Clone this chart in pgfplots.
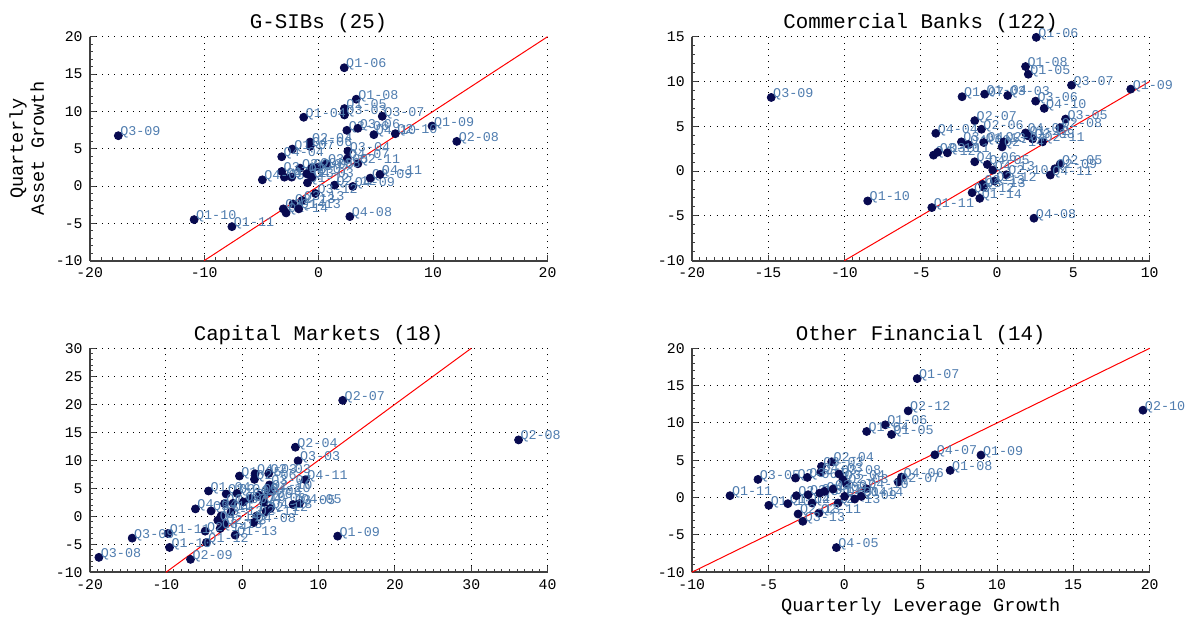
\documentclass[border=0pt]{standalone}
\usepackage{pgfplots}
\pgfplotsset{compat=1.18}
\usepackage{fontspec}
\setmainfont{Liberation Mono}
\definecolor{navy}{RGB}{8,10,80}
\definecolor{lblue}{RGB}{80,125,175}
\pgfplotsset{
  /pgf/number format/assume math mode=true,
  panel/.style={
    scale only axis, width=229pt, height=112pt,
    axis lines*=left,
    axis line style={line width=0.9pt, black!75},
    tick style={black!75, line width=0.5pt},
    major tick length=3pt, minor tick length=1.6pt,
    minor x tick num=9, minor y tick num=4,
    grid=major,
    major grid style={black, line width=0.5pt, dash pattern=on 0.5pt off 2.6pt},
    tick label style={font=\fontsize{7.4}{8}\selectfont, black},
    title style={font=\fontsize{10.4}{12}\selectfont, at={(0.5,1)}, anchor=south, yshift=-4.5pt, inner sep=0pt},
    label style={font=\fontsize{9.3}{10.5}\selectfont},
    clip=false,
    enlargelimits=false,
  },
  pts/.style={only marks, mark=*, mark size=2pt, mark options={fill=navy, draw=navy},
    nodes near coords, point meta=explicit symbolic,
    every node near coord/.append style={anchor=west, inner sep=0pt, xshift=0.8pt, yshift=1.6pt,
      font=\fontsize{6.7}{7}\selectfont, text=lblue}},
  diag/.style={red, line width=0.5pt, no marks},
}
\begin{document}
\begin{tikzpicture}
\useasboundingbox (0,0) rectangle (595.5pt,308.5pt);
% ---------------- G-SIBs
\begin{axis}[panel, at={(44.8pt,290.15pt)}, anchor=north west,
  title={G-SIBs (25)},
  xmin=-20, xmax=20, ymin=-10, ymax=20,
  xtick={-20,-10,0,10,20}, ytick={-10,-5,0,5,10,15,20},
  ylabel={Quarterly\\Asset Growth}, ylabel style={align=center, yshift=-1pt}]
\addplot[diag] coordinates {(-10,-10) (20,20)};
\addplot[pts] table[x=x, y=y, meta=lab, row sep=\\] {
x y lab\\
2.24 15.84 Q1-06\\
3.29 11.63 Q1-08\\
2.26 10.37 Q1-05\\
2.26 9.52 Q3-03\\
-1.30 9.21 Q1-04\\
5.56 9.34 Q3-07\\
-17.49 6.74 Q3-09\\
9.91 8.04 Q1-09\\
12.07 5.98 Q2-08\\
2.47 7.46 Q2-06\\
3.43 7.73 Q3-06\\
4.83 6.88 Q4-10\\
6.70 7.01 Q2-10\\
-0.74 5.89 Q2-04\\
-0.74 5.31 Q4-06\\
-2.29 4.95 Q1-07\\
-3.22 3.92 Q4-04\\
2.56 4.68 Q3-04\\
2.50 3.65 Q4-07\\
3.43 2.98 Q2-11\\
0.66 2.98 Q3-05\\
-1.62 2.40 Q3-10\\
-0.60 2.40 Q2-05\\
-0.01 2.54 Q3-08\\
-3.22 1.95 Q3-11\\
-2.99 1.19 Q4-12\\
-2.35 1.19 Q4-13\\
-4.91 0.83 Q4-05\\
-1.03 1.64 Q2-07\\
-0.97 0.43 Q1-12\\
-0.60 1.19 Q4-03\\
1.39 0.12 Q2-12\\
2.99 -0.06 Q4-09\\
4.51 1.06 Q2-09\\
5.36 1.55 Q4-11\\
-0.27 -1.00 Q3-12\\
-1.44 -1.94 Q3-13\\
-2.23 -2.39 Q2-13\\
-3.08 -3.06 Q2-14\\
-2.84 -3.60 Q1-14\\
-1.73 -3.06 Q1-13\\
2.73 -4.09 Q4-08\\
-10.87 -4.50 Q1-10\\
-7.57 -5.44 Q1-11\\
};
\end{axis}
% ---------------- Commercial Banks
\begin{axis}[panel, at={(345.85pt,290.15pt)}, anchor=north west,
  title={Commercial Banks (122)},
  xmin=-20, xmax=10, ymin=-10, ymax=15,
  xtick={-20,-15,-10,-5,0,5,10}, ytick={-10,-5,0,5,10,15}]
\addplot[diag] coordinates {(-10,-10) (10,10)};
\addplot[pts] table[x=x, y=y, meta=lab, row sep=\\] {
x y lab\\
2.57 14.93 Q1-06\\
1.87 11.67 Q1-08\\
2.05 10.81 Q1-05\\
4.88 9.59 Q3-07\\
8.76 9.15 Q1-09\\
-14.79 8.22 Q3-09\\
-2.29 8.30 Q1-07\\
-0.81 8.59 Q1-04\\
0.70 8.44 Q3-03\\
2.53 7.81 Q3-06\\
3.09 7.00 Q4-10\\
4.49 5.81 Q3-05\\
4.12 4.85 Q2-08\\
-1.46 5.63 Q2-07\\
-1.02 4.67 Q2-06\\
-4.01 4.22 Q4-04\\
1.87 4.26 Q4-07\\
2.00 3.96 Q1-12\\
2.33 3.59 Q3-08\\
2.98 3.26 Q2-11\\
-2.33 3.26 Q3-04\\
-1.87 2.96 Q4-09\\
-0.87 3.19 Q1-13\\
0.44 3.26 Q2-04\\
0.33 2.70 Q2-14\\
-4.16 1.78 Q4-12\\
-3.88 2.11 Q3-10\\
-3.25 2.04 Q3-11\\
-1.46 1.04 Q4-06\\
-0.63 0.74 Q4-05\\
-0.28 0.11 Q4-13\\
0.61 -0.41 Q2-10\\
4.14 0.78 Q2-05\\
3.79 0.26 Q2-09\\
3.49 -0.44 Q4-11\\
-0.17 -1.11 Q2-12\\
-0.94 -1.48 Q2-13\\
-0.89 -1.78 Q3-13\\
-1.63 -2.41 Q3-12\\
-1.13 -3.04 Q1-14\\
-8.47 -3.33 Q1-10\\
-4.27 -4.07 Q1-11\\
2.42 -5.26 Q4-08\\
};
\end{axis}
% ---------------- Capital Markets
\begin{axis}[panel, at={(44.8pt,134.35pt)}, anchor=north west,
  title={Capital Markets (18)},
  xmin=-20, xmax=40, ymin=-10, ymax=30,
  xtick={-20,-10,0,10,20,30,40}, ytick={-10,-5,0,5,10,15,20,25,30}]
\addplot[diag] coordinates {(-10,-10) (30,30)};
\addplot[pts] table[x=x, y=y, meta=lab, row sep=\\] {
x y lab\\
13.16 20.70 Q2-07\\
36.20 13.64 Q2-08\\
6.96 12.34 Q2-04\\
7.31 9.91 Q3-03\\
8.27 6.53 Q4-11\\
-0.37 7.19 Q1-05\\
1.68 7.60 Q4-03\\
3.47 7.66 Q2-03\\
1.60 6.60 Q2-06\\
3.56 5.60 Q3-07\\
3.65 4.80 Q2-10\\
3.43 4.34 Q4-10\\
-4.42 4.52 Q1-04\\
-2.11 3.99 Q3-04\\
-0.67 4.10 Q2-05\\
1.07 3.16 Q1-06\\
2.25 3.75 Q3-06\\
2.82 2.44 Q4-06\\
-2.33 2.27 Q1-07\\
-1.20 2.33 Q4-07\\
0.16 2.56 Q3-10\\
6.66 2.09 Q3-05\\
7.49 2.27 Q4-05\\
-6.13 1.32 Q4-04\\
-4.08 0.96 Q3-11\\
-1.46 0.79 Q4-12\\
3.12 0.84 Q2-12\\
3.65 1.38 Q4-13\\
1.90 0.07 Q2-11\\
-2.77 0.07 Q3-12\\
-3.20 -0.70 Q4-14\\
-2.33 -1.41 Q2-13\\
1.51 -1.11 Q4-08\\
-2.90 -2.18 Q3-13\\
-4.86 -2.65 Q2-14\\
-0.93 -3.36 Q1-13\\
-4.69 -4.67 Q1-12\\
-9.75 -3.07 Q1-11\\
-9.53 -5.56 Q1-10\\
-14.42 -3.90 Q3-09\\
-18.78 -7.33 Q3-08\\
-6.78 -7.69 Q2-09\\
12.50 -3.54 Q1-09\\
};
\end{axis}
% ---------------- Other Financial
\begin{axis}[panel, at={(345.85pt,134.35pt)}, anchor=north west,
  title={Other Financial (14)},
  xmin=-10, xmax=20, ymin=-10, ymax=20,
  xtick={-10,-5,0,5,10,15,20}, ytick={-10,-5,0,5,10,15,20},
  xlabel={Quarterly Leverage Growth}, xlabel style={yshift=2.5pt}]
\addplot[diag] coordinates {(-10,-10) (20,20)};
\addplot[pts] table[x=x, y=y, meta=lab, row sep=\\] {
x y lab\\
4.77 15.94 Q1-07\\
4.18 11.62 Q2-12\\
2.68 9.75 Q1-06\\
1.46 8.86 Q1-04\\
3.09 8.46 Q1-05\\
5.93 5.74 Q4-07\\
8.95 5.70 Q1-09\\
6.93 3.65 Q1-08\\
3.75 2.75 Q4-06\\
3.53 2.09 Q2-07\\
19.56 11.71 Q2-10\\
-0.83 4.80 Q2-04\\
-1.50 4.18 Q3-03\\
-1.55 3.38 Q4-03\\
-5.66 2.44 Q3-05\\
-3.20 2.62 Q2-06\\
-2.42 2.71 Q3-10\\
-0.35 3.16 Q3-08\\
-0.09 2.40 Q3-04\\
0.13 1.86 Q2-03\\
1.44 1.19 Q4-10\\
-7.49 0.26 Q1-11\\
-4.95 -1.03 Q1-10\\
-3.70 -0.81 Q1-12\\
-3.14 0.26 Q2-05\\
-2.37 0.39 Q3-06\\
-2.11 -0.72 Q4-12\\
-1.61 0.61 Q3-11\\
-1.29 0.84 Q4-09\\
-0.74 1.15 Q3-07\\
-0.41 -0.72 Q1-13\\
0.02 0.17 Q4-04\\
0.68 -0.19 Q2-09\\
1.11 0.17 Q1-14\\
-1.66 -2.06 Q2-11\\
-3.03 -2.19 Q2-13\\
-2.72 -3.17 Q3-13\\
-0.52 -6.69 Q4-05\\
};
\end{axis}
\end{tikzpicture}
\end{document}
